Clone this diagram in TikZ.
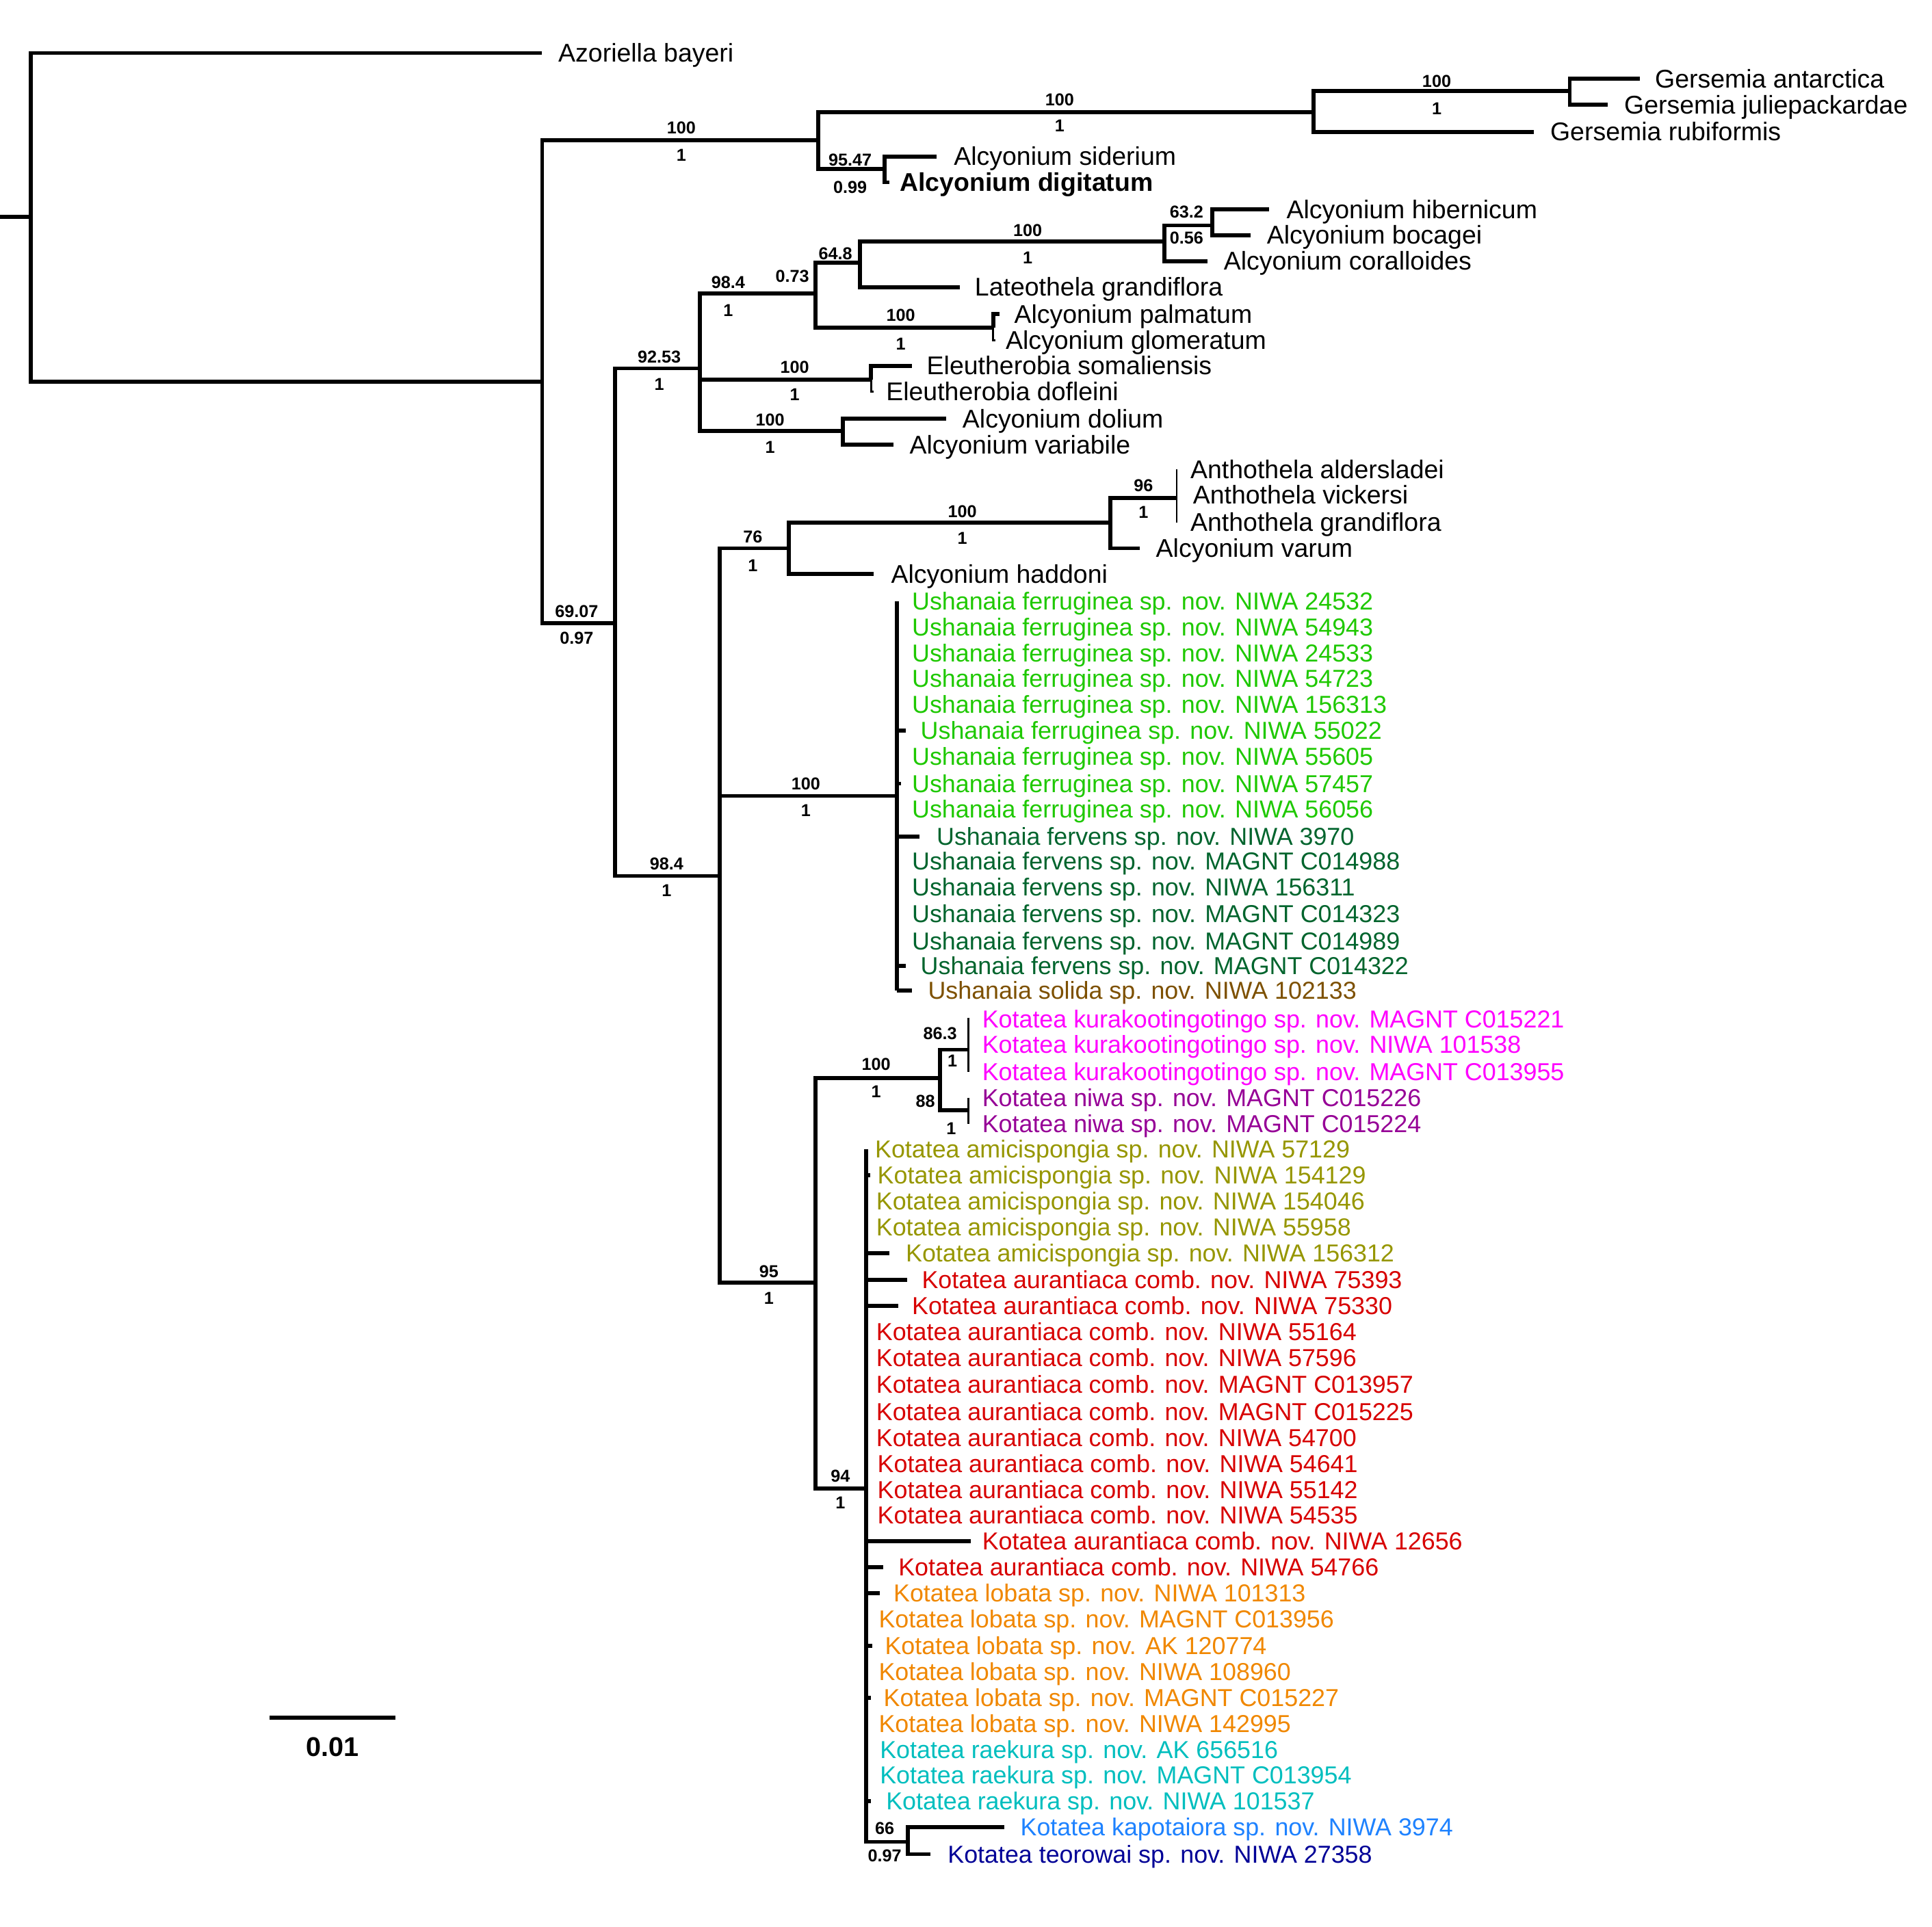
\documentclass[tikz,border=0pt]{standalone}
\usepackage{fontspec}
\setmainfont{Liberation Sans}
\usetikzlibrary{calc}
\definecolor{ushfer}{RGB}{30,200,0}
\definecolor{ushfrv}{RGB}{0,100,45}
\definecolor{ushsol}{RGB}{125,80,0}
\definecolor{kotkur}{RGB}{255,0,255}
\definecolor{kotniw}{RGB}{150,0,150}
\definecolor{kotami}{RGB}{150,150,0}
\definecolor{kotaur}{RGB}{215,0,0}
\definecolor{kotlob}{RGB}{240,135,0}
\definecolor{kotrae}{RGB}{0,190,190}
\definecolor{kotkap}{RGB}{30,130,255}
\definecolor{kotteo}{RGB}{0,0,150}

\begin{document}
\begin{tikzpicture}[
    x=1pt, y=-1pt,
    br/.style={line width=3.2pt},
    pz/.style={line width=1.6pt},
    tx/.style={anchor=base west, inner sep=0pt, yshift=-7.2pt, font=\fontsize{20.8}{24}\selectfont},
    ctx/.style={anchor=base west, inner sep=0pt, yshift=-7pt, font=\fontsize{19.9}{23}\selectfont},
    bs/.style={inner sep=0pt, font=\fontsize{14}{16}\selectfont\bfseries},
  ]
  \useasboundingbox (0,0) rectangle (1568,1564);

  % internal nodes
  \coordinate (root) at (0,176);
  \coordinate (n0) at (25,176);
  \coordinate (n1) at (440,310);
  \coordinate (nA) at (664,114);
  \coordinate (nGer) at (1066,91);
  \coordinate (nGa) at (1274,74);
  \coordinate (nSid) at (718,137);
  \coordinate (n69) at (499,506);
  \coordinate (n92) at (568,299);
  \coordinate (n98a) at (662,238);
  \coordinate (n64) at (698,213);
  \coordinate (n100c) at (945,196);
  \coordinate (n63) at (984,183);
  \coordinate (nPal) at (806,266);
  \coordinate (nEle) at (707,308);
  \coordinate (nDol) at (684,350);
  \coordinate (n98b) at (584,711);
  \coordinate (n76) at (640,445);
  \coordinate (nAnt) at (901,424);
  \coordinate (n96) at (955,404);
  \coordinate (nUsh) at (728,646);
  \coordinate (n95) at (662,1041);
  \coordinate (nKn) at (763,875);
  \coordinate (n86) at (786,852);
  \coordinate (n88) at (786,901);
  \coordinate (n94) at (703,1208);
  \coordinate (n66) at (737,1495);

  % branch ends of the named tips
  \coordinate (azo-e) at (440,43);
  \coordinate (ant-e) at (1331,64);
  \coordinate (jul-e) at (1305,85);
  \coordinate (rub-e) at (1245,107);
  \coordinate (sid-e) at (760,127);
  \coordinate (dig-e) at (722,148);
  \coordinate (hib-e) at (1030,170);
  \coordinate (boc-e) at (1015,191);
  \coordinate (cor-e) at (980,212);
  \coordinate (lat-e) at (779,233);
  \coordinate (pal-e) at (811,255);
  \coordinate (glo-e) at (808,276);
  \coordinate (som-e) at (740,297);
  \coordinate (dof-e) at (709,318);
  \coordinate (dol-e) at (768,340);
  \coordinate (var-e) at (725,361);
  \coordinate (vrm-e) at (925,445);
  \coordinate (had-e) at (709,466);
  \coordinate (kap-e) at (815,1483);
  \coordinate (teo-e) at (755,1505);

  % backbone
  \draw[br] (root) -- (n0);
  \draw[br] (n0) |- (azo-e);
  \draw[br] (n0) |- (n1);
  \draw[br] (n1) |- (nA);
  \draw[br] (n1) |- (n69);

  % Gersemia / Alcyonium siderium
  \draw[br] (nA) |- (nGer);
  \draw[br] (nA) |- (nSid);
  \draw[br] (nGer) |- (nGa);
  \draw[br] (nGer) |- (rub-e);
  \draw[br] (nGa) |- (ant-e);
  \draw[br] (nGa) |- (jul-e);
  \draw[br] (nSid) |- (sid-e);
  \draw[br] (nSid) |- (dig-e);

  % Alcyonium clade
  \draw[br] (n69) |- (n92);
  \draw[br] (n69) |- (n98b);
  \draw[br] (n92) |- (n98a);
  \draw[br] (n92) |- (nEle);
  \draw[br] (n92) |- (nDol);
  \draw[br] (n98a) |- (n64);
  \draw[br] (n98a) |- (nPal);
  \draw[br] (n64) |- (n100c);
  \draw[br] (n64) |- (lat-e);
  \draw[br] (n100c) |- (n63);
  \draw[br] (n100c) |- (cor-e);
  \draw[br] (n63) |- (hib-e);
  \draw[br] (n63) |- (boc-e);
  \draw[br] (nPal) |- (pal-e);
  \draw[pz] (nPal) |- (glo-e);
  \draw[br] (nEle) |- (som-e);
  \draw[pz] (nEle) |- (dof-e);
  \draw[br] (nDol) |- (dol-e);
  \draw[br] (nDol) |- (var-e);

  % Anthothela
  \draw[br] (n98b) |- (n76);
  \draw[br] (n98b) |- (nUsh);
  \draw[br] (n98b) |- (n95);
  \draw[br] (n76) |- (nAnt);
  \draw[br] (n76) |- (had-e);
  \draw[br] (nAnt) |- (n96);
  \draw[br] (nAnt) |- (vrm-e);
  \draw[pz] (955,381) -- (955,424);

  % Ushanaia
  \draw[br] (728,488) -- (728,804);
  \foreach \yy/\sx/\tx/\cl/\lab [count=\i] in {
      488/728/740/ushfer/Ushanaia ferruginea sp. nov. NIWA 24532,
      509/728/740/ushfer/Ushanaia ferruginea sp. nov. NIWA 54943,
      530/728/740/ushfer/Ushanaia ferruginea sp. nov. NIWA 24533,
      551/728/740/ushfer/Ushanaia ferruginea sp. nov. NIWA 54723,
      572/728/740/ushfer/Ushanaia ferruginea sp. nov. NIWA 156313,
      593/735/747/ushfer/Ushanaia ferruginea sp. nov. NIWA 55022,
      614/728/740/ushfer/Ushanaia ferruginea sp. nov. NIWA 55605,
      636/731/740/ushfer/Ushanaia ferruginea sp. nov. NIWA 57457,
      657/728/740/ushfer/Ushanaia ferruginea sp. nov. NIWA 56056,
      679/746/760/ushfrv/Ushanaia fervens sp. nov. NIWA 3970,
      699/728/740/ushfrv/Ushanaia fervens sp. nov. MAGNT C014988,
      720/728/740/ushfrv/Ushanaia fervens sp. nov. NIWA 156311,
      742/728/740/ushfrv/Ushanaia fervens sp. nov. MAGNT C014323,
      764/728/740/ushfrv/Ushanaia fervens sp. nov. MAGNT C014989,
      784/735/747/ushfrv/Ushanaia fervens sp. nov. MAGNT C014322,
      804/740/753/ushsol/Ushanaia solida sp. nov. NIWA 102133} {
    \coordinate (ush\i-e) at (\sx,\yy);
    \draw[br] (728,\yy) -- (ush\i-e);
    \node[ctx, text=\cl] (ush\i) at (\tx,\yy) {\lab};
  }

  % Kotatea
  \draw[br] (n95) |- (nKn);
  \draw[br] (n95) |- (n94);
  \draw[br] (nKn) |- (n86);
  \draw[br] (nKn) |- (n88);
  \draw[pz] (786,826) -- (786,870);
  \draw[pz] (786,891) -- (786,912);
  \draw[br] (703,933) -- (703,1495);
  \foreach \yy/\sx/\tx/\cl/\lab [count=\i] in {
      933/703/710/kotami/Kotatea amicispongia sp. nov. NIWA 57129,
      954/706/712/kotami/Kotatea amicispongia sp. nov. NIWA 154129,
      975/703/711/kotami/Kotatea amicispongia sp. nov. NIWA 154046,
      996/703/711/kotami/Kotatea amicispongia sp. nov. NIWA 55958,
      1017/722/735/kotami/Kotatea amicispongia sp. nov. NIWA 156312,
      1039/736/748/kotaur/Kotatea aurantiaca comb. nov. NIWA 75393,
      1060/729/740/kotaur/Kotatea aurantiaca comb. nov. NIWA 75330,
      1081/703/711/kotaur/Kotatea aurantiaca comb. nov. NIWA 55164,
      1102/703/711/kotaur/Kotatea aurantiaca comb. nov. NIWA 57596,
      1124/703/711/kotaur/Kotatea aurantiaca comb. nov. MAGNT C013957,
      1146/703/711/kotaur/Kotatea aurantiaca comb. nov. MAGNT C015225,
      1167/703/711/kotaur/Kotatea aurantiaca comb. nov. NIWA 54700,
      1188/703/712/kotaur/Kotatea aurantiaca comb. nov. NIWA 54641,
      1209/703/712/kotaur/Kotatea aurantiaca comb. nov. NIWA 55142,
      1230/703/712/kotaur/Kotatea aurantiaca comb. nov. NIWA 54535,
      1251/788/797/kotaur/Kotatea aurantiaca comb. nov. NIWA 12656,
      1272/717/729/kotaur/Kotatea aurantiaca comb. nov. NIWA 54766,
      1293/714/725/kotlob/Kotatea lobata sp. nov. NIWA 101313,
      1314/703/713/kotlob/Kotatea lobata sp. nov. MAGNT C013956,
      1336/708/718/kotlob/Kotatea lobata sp. nov. AK 120774,
      1357/703/713/kotlob/Kotatea lobata sp. nov. NIWA 108960,
      1378/707/717/kotlob/Kotatea lobata sp. nov. MAGNT C015227,
      1399/703/713/kotlob/Kotatea lobata sp. nov. NIWA 142995,
      1420/703/714/kotrae/Kotatea raekura sp. nov. AK 656516,
      1441/703/714/kotrae/Kotatea raekura sp. nov. MAGNT C013954,
      1462/707/719/kotrae/Kotatea raekura sp. nov. NIWA 101537} {
    \coordinate (kot\i-e) at (\sx,\yy);
    \draw[br] (703,\yy) -- (kot\i-e);
    \node[ctx, text=\cl] (kot\i) at (\tx,\yy) {\lab};
  }
  \draw[br] (n94) |- (n66);
  \draw[br] (n66) |- (kap-e);
  \draw[br] (n66) |- (teo-e);

  % tip names
  \node[tx] (azo) at (453,43) {Azoriella bayeri};
  \node[tx] (ant) at (1343,64) {Gersemia antarctica};
  \node[tx] (jul) at (1318,85) {Gersemia juliepackardae};
  \node[tx] (rub) at (1258,107) {Gersemia rubiformis};
  \node[tx] (sid) at (774,127) {Alcyonium siderium};
  \node[tx, font=\fontsize{20.8}{24}\selectfont\bfseries] (dig) at (730,148) {Alcyonium digitatum};
  \node[tx] (hib) at (1044,170) {Alcyonium hibernicum};
  \node[tx] (boc) at (1028,191) {Alcyonium bocagei};
  \node[tx] (cor) at (993,212) {Alcyonium coralloides};
  \node[tx] (lat) at (791,233) {Lateothela grandiflora};
  \node[tx] (pal) at (823,255) {Alcyonium palmatum};
  \node[tx] (glo) at (816,276) {Alcyonium glomeratum};
  \node[tx] (som) at (752,297) {Eleutherobia somaliensis};
  \node[tx] (dof) at (719,318) {Eleutherobia dofleini};
  \node[tx] (dol) at (781,340) {Alcyonium dolium};
  \node[tx] (var) at (738,361) {Alcyonium variabile};
  \node[tx] (ald) at (966,381) {Anthothela aldersladei};
  \node[tx] (vic) at (968,402) {Anthothela vickersi};
  \node[tx] (agr) at (966,424) {Anthothela grandiflora};
  \node[tx] (vrm) at (938,445) {Alcyonium varum};
  \node[tx] (had) at (723,466) {Alcyonium haddoni};
  \node[ctx, text=kotkur] (kur1) at (797,827) {Kotatea kurakootingotingo sp. nov. MAGNT C015221};
  \node[ctx, text=kotkur] (kur2) at (797,848) {Kotatea kurakootingotingo sp. nov. NIWA 101538};
  \node[ctx, text=kotkur] (kur3) at (797,870) {Kotatea kurakootingotingo sp. nov. MAGNT C013955};
  \node[ctx, text=kotniw] (niw1) at (797,891) {Kotatea niwa sp. nov. MAGNT C015226};
  \node[ctx, text=kotniw] (niw2) at (797,912) {Kotatea niwa sp. nov. MAGNT C015224};
  \node[ctx, text=kotkap] (kap) at (828,1483) {Kotatea kapotaiora sp. nov. NIWA 3974};
  \node[ctx, text=kotteo] (teo) at (769,1505) {Kotatea teorowai sp. nov. NIWA 27358};

  % support values
  \node[bs] (sA-t) at (553,104) {100};   \node[bs] (sA-b) at (553,126) {1};
  \node[bs] (sGer-t) at (860,81) {100};  \node[bs] (sGer-b) at (860,102) {1};
  \node[bs] (sGa-t) at (1166,66) {100};  \node[bs] (sGa-b) at (1166,88) {1};
  \node[bs] (sSid-t) at (690,130) {95.47}; \node[bs] (sSid-b) at (690,152) {0.99};
  \node[bs] (s69-t) at (468,496) {69.07}; \node[bs] (s69-b) at (468,518) {0.97};
  \node[bs] (s92-t) at (535,290) {92.53}; \node[bs] (s92-b) at (535,312) {1};
  \node[bs] (s98a-t) at (591,229) {98.4}; \node[bs] (s98a-b) at (591,252) {1};
  \node[bs] (s64-t) at (678,206) {64.8};  \node[bs] (s64-b) at (643,224) {0.73};
  \node[bs] (s100c-t) at (834,187) {100}; \node[bs] (s100c-b) at (834,209) {1};
  \node[bs] (s63-t) at (963,172) {63.2};  \node[bs] (s63-b) at (963,193) {0.56};
  \node[bs] (sPal-t) at (731,256) {100};  \node[bs] (sPal-b) at (731,279) {1};
  \node[bs] (sEle-t) at (645,298) {100};  \node[bs] (sEle-b) at (645,320) {1};
  \node[bs] (sDol-t) at (625,341) {100};  \node[bs] (sDol-b) at (625,363) {1};
  \node[bs] (s98b-t) at (541,701) {98.4}; \node[bs] (s98b-b) at (541,723) {1};
  \node[bs] (s76-t) at (611,436) {76};    \node[bs] (s76-b) at (611,459) {1};
  \node[bs] (sAnt-t) at (781,415) {100};  \node[bs] (sAnt-b) at (781,437) {1};
  \node[bs] (s96-t) at (928,394) {96};    \node[bs] (s96-b) at (928,416) {1};
  \node[bs] (sUsh-t) at (654,636) {100};  \node[bs] (sUsh-b) at (654,658) {1};
  \node[bs] (s95-t) at (624,1032) {95};   \node[bs] (s95-b) at (624,1054) {1};
  \node[bs] (sKn-t) at (711,864) {100};   \node[bs] (sKn-b) at (711,886) {1};
  \node[bs] (s86-t) at (763,839) {86.3};  \node[bs] (s86-b) at (773,861) {1};
  \node[bs] (s88-t) at (751,894) {88};    \node[bs] (s88-b) at (772,916) {1};
  \node[bs] (s94-t) at (682,1198) {94};   \node[bs] (s94-b) at (682,1220) {1};
  \node[bs] (s66-t) at (718,1484) {66};   \node[bs] (s66-b) at (718,1506) {0.97};

  % scale bar
  \coordinate (sc-l) at (219,1394);
  \coordinate (sc-r) at (321,1394);
  \draw[br] (sc-l) -- (sc-r);
  \node[inner sep=0pt, font=\fontsize{22}{24}\selectfont\bfseries] (sc) at (270,1418) {0.01};

\end{tikzpicture}
\end{document}
